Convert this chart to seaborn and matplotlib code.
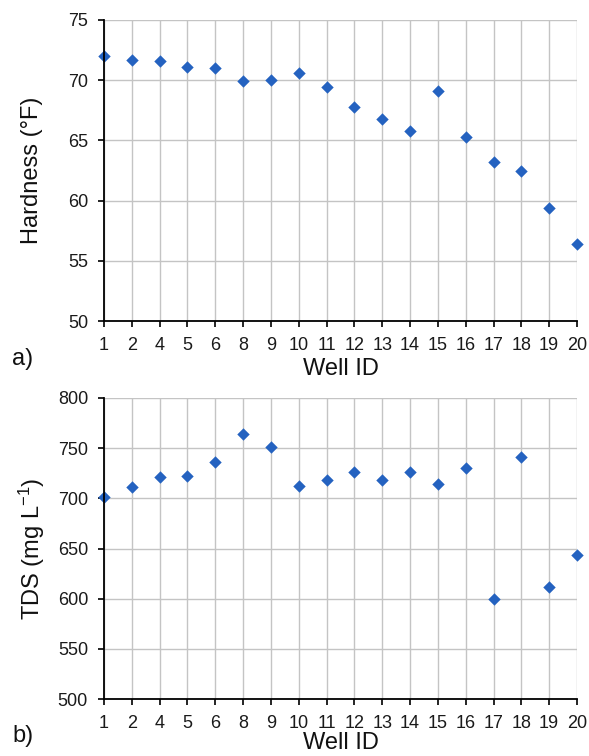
import matplotlib
matplotlib.use("Agg")
import matplotlib.pyplot as plt
import seaborn as sns
import pandas as pd

well_ids = ["1", "2", "4", "5", "6", "8", "9", "10", "11", "12", "13", "14",
            "15", "16", "17", "18", "19", "20"]
hardness = [72.0, 71.7, 71.6, 71.1, 71.0, 69.9, 70.0, 70.6, 69.4, 67.8, 66.8,
            65.8, 69.1, 65.3, 63.2, 62.5, 59.4, 56.4]
tds = [701, 711, 721, 722, 736, 764, 751, 712, 718, 726, 718, 726, 714, 730,
       600, 741, 612, 644]

sns.set_theme(style="white")
plt.rcParams["font.family"] = ["Liberation Sans", "DejaVu Sans"]
plt.rcParams["mathtext.fontset"] = "custom"
plt.rcParams["mathtext.rm"] = "Liberation Sans"
plt.rcParams["mathtext.it"] = "Liberation Sans"

df = pd.DataFrame({"well": well_ids, "hardness": hardness, "tds": tds})

W, H = 589, 756
fig = plt.figure(figsize=(W / 100, H / 100), dpi=100)

def fx(px):
    return px / W

def fy(py):
    return 1 - py / H

left, right = 104, 577
ax1 = fig.add_axes([fx(left), fy(321), fx(right) - fx(left), fy(20) - fy(321)])
ax2 = fig.add_axes([fx(left), fy(699), fx(right) - fx(left), fy(398) - fy(699)])

color = "#2462C0"

def style(ax, col, ylim, yticks, ylabel, xlab_off):
    sns.scatterplot(data=df, x="well", y=col, ax=ax, marker="D", s=40,
                    color=color, edgecolor=color, linewidth=0, zorder=3,
                    clip_on=False)
    ax.set_xlim(0, len(well_ids) - 1)
    ax.set_ylim(*ylim)
    ax.set_yticks(yticks)
    ax.set_xticks(range(len(well_ids)))
    ax.set_xticklabels(well_ids)
    ax.grid(True, color="#C4C4C4", linewidth=1.0)
    ax.set_axisbelow(True)
    for s in ["top", "right"]:
        ax.spines[s].set_visible(False)
    for s in ["left", "bottom"]:
        ax.spines[s].set_color("black")
        ax.spines[s].set_linewidth(1.3)
        ax.spines[s].set_zorder(4)
    ax.tick_params(axis="both", direction="out", length=4, width=1.2,
                   color="black", labelsize=13, labelcolor="#1a1a1a",
                   left=True, bottom=True, pad=7.5)
    ax.set_ylabel(ylabel, fontsize=17, color="#111111")
    ax.set_xlabel("Well ID", fontsize=17, color="#111111")
    ax.yaxis.set_label_coords((32 - left) / (right - left), 0.5)
    ax.xaxis.set_label_coords(0.5, -xlab_off / 301)
    ax.xaxis.label.set_va("center")
    ax.yaxis.label.set_va("center")

style(ax1, "hardness", (50, 75), range(50, 80, 5), "Hardness (°F)", 48)
style(ax2, "tds", (500, 800), range(500, 850, 50), "TDS (mg L$^{-1}$)", 44)

fig.text(fx(23), fy(359), "a)", fontsize=17, ha="center", va="center",
         color="#111111")
fig.text(fx(23), fy(736), "b)", fontsize=17, ha="center", va="center",
         color="#111111")

fig.savefig("out.png", dpi=100)
